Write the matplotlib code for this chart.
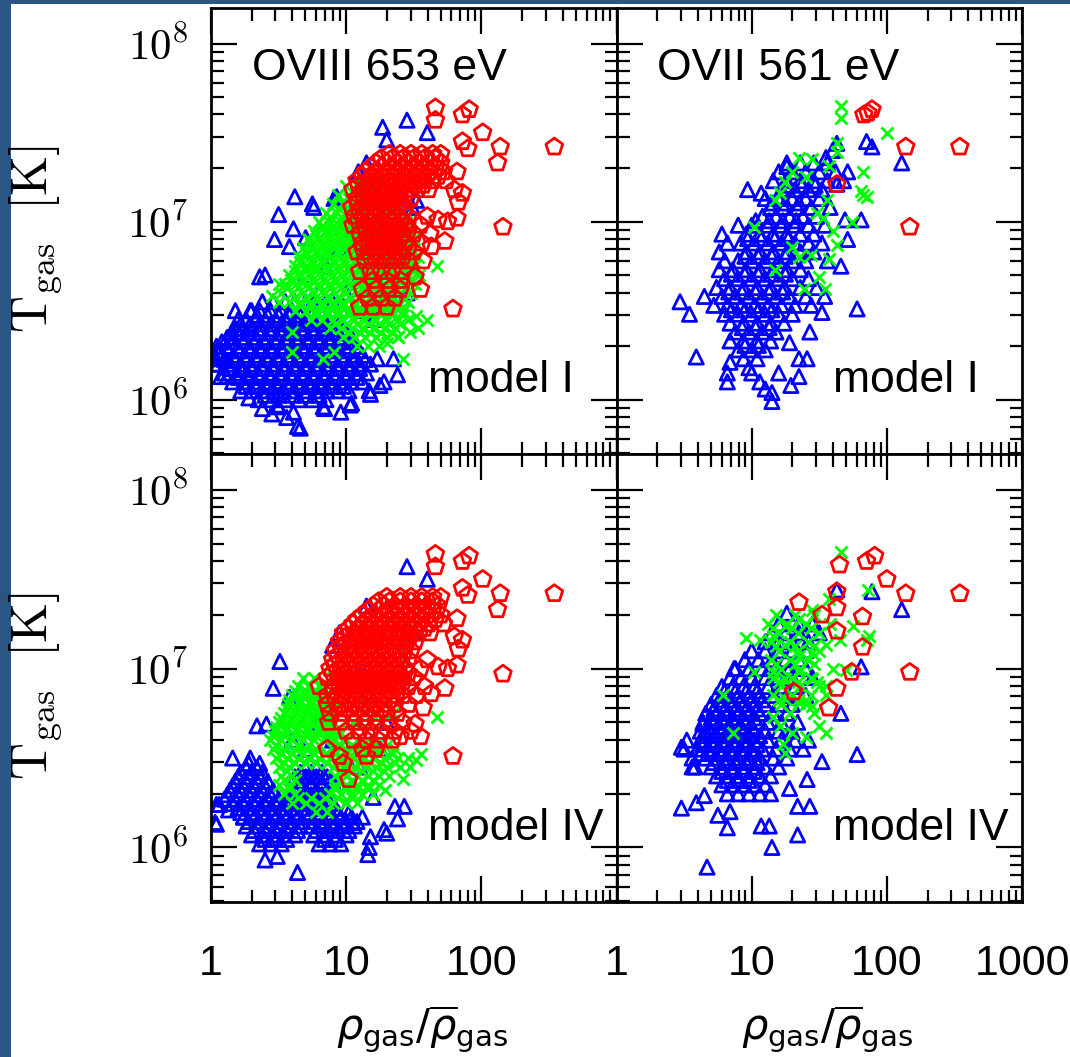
import numpy as np
import matplotlib
matplotlib.use("Agg")
import matplotlib.pyplot as plt
from matplotlib.patches import Rectangle
from matplotlib.ticker import FixedLocator, FixedFormatter, LogLocator, NullFormatter

plt.rcParams['font.family'] = ['Liberation Sans', 'DejaVu Sans']
plt.rcParams['mathtext.fontset'] = 'cm'

# ---------------------------------------------------------------
# Data: all values are log10(rho_gas/<rho_gas>) and log10(T_gas / K),
# read off the log-log panels.  Rows: (log T, [log rho, ...]).
# ---------------------------------------------------------------
X_TICKS = [1, 10, 100, 1000]
X_TICK_LABELS_LEFT = ['1', '10', '100', '']
X_TICK_LABELS_RIGHT = ['1', '10', '100', '1000']
Y_TICKS = [1e6, 1e7, 1e8]
Y_TICK_LABELS = [r'$10^6$', r'$10^7$', r'$10^8$']
PANEL_TITLES = ['OVIII 653 eV', 'OVII 561 eV']
MODEL_LABELS = ['model I', 'model IV']

# ---- top-left: OVIII, model I ----
TL_BLUE_ROWS = [
    (6.55, [0.38, 0.46, 0.55, 0.62, 0.70]),
    (6.50, [0.30, 0.36, 0.44, 0.52, 0.60, 0.68, 0.76, 0.84]),
    (6.45, [0.20, 0.26, 0.33, 0.40, 0.48, 0.55, 0.63, 0.71, 0.79, 0.87, 0.95]),
    (6.40, [0.18, 0.24, 0.30, 0.37, 0.45, 0.52, 0.60, 0.67, 0.75, 0.83, 0.91, 0.98]),
    (6.35, [0.12, 0.16, 0.25, 0.33, 0.41, 0.49, 0.56, 0.64, 0.72, 0.80, 0.88, 0.96, 1.04]),
    (6.30, [0.04, 0.12, 0.20, 0.28, 0.36, 0.44, 0.52, 0.60, 0.68, 0.76, 0.84, 0.92, 1.00, 1.08]),
    (6.25, [0.02, 0.08, 0.17, 0.25, 0.33, 0.41, 0.49, 0.57, 0.65, 0.73, 0.81, 0.89, 0.97, 1.05, 1.12]),
    (6.20, [0.05, 0.14, 0.22, 0.30, 0.38, 0.46, 0.54, 0.62, 0.70, 0.78, 0.86, 0.94, 1.02, 1.10, 1.18]),
    (6.15, [0.10, 0.19, 0.27, 0.35, 0.43, 0.51, 0.59, 0.67, 0.75, 0.83, 0.91, 0.99, 1.07, 1.15]),
    (6.10, [0.16, 0.24, 0.32, 0.40, 0.48, 0.56, 0.64, 0.72, 0.80, 0.88, 0.96, 1.04, 1.12]),
    (6.05, [0.22, 0.30, 0.38, 0.46, 0.54, 0.62, 0.70, 0.78, 0.86, 0.94, 1.02]),
    (6.00, [0.35, 0.45, 0.55, 0.65, 0.75, 0.85]),
]
TL_BLUE_CORE_ROWS = [
    (6.475, [0.34, 0.42, 0.50, 0.58, 0.66, 0.74, 0.82, 0.90]),
    (6.425, [0.22, 0.29, 0.36, 0.44, 0.52, 0.60, 0.68, 0.76, 0.84, 0.92]),
    (6.375, [0.15, 0.21, 0.28, 0.36, 0.44, 0.52, 0.60, 0.68, 0.76, 0.84, 0.92, 1.00]),
    (6.325, [0.08, 0.16, 0.24, 0.32, 0.40, 0.48, 0.56, 0.64, 0.72, 0.80, 0.88, 0.96, 1.04]),
    (6.275, [0.05, 0.13, 0.21, 0.29, 0.37, 0.45, 0.53, 0.61, 0.69, 0.77, 0.85, 0.93, 1.01, 1.09]),
    (6.225, [0.10, 0.18, 0.26, 0.34, 0.42, 0.50, 0.58, 0.66, 0.74, 0.82, 0.90, 0.98, 1.06, 1.14]),
    (6.175, [0.14, 0.22, 0.30, 0.38, 0.46, 0.54, 0.62, 0.70, 0.78, 0.86, 0.94, 1.02, 1.10]),
    (6.125, [0.20, 0.28, 0.36, 0.44, 0.52, 0.60, 0.68, 0.76, 0.84, 0.92, 1.00, 1.08]),
    (6.075, [0.26, 0.34, 0.42, 0.50, 0.58, 0.66, 0.74, 0.82, 0.90, 0.98]),
    (6.025, [0.40, 0.50, 0.60, 0.70, 0.80]),
]
TL_BLUE_PTS = [
    (1.27, 7.53), (1.30, 7.46), (1.45, 7.57), (1.60, 7.50), (1.15, 7.33), (1.09, 7.28),
    (0.93, 7.14), (0.75, 7.10), (0.62, 7.14), (0.76, 7.08), (0.91, 7.13), (0.50, 7.04),
    (0.61, 6.96), (0.47, 6.90), (0.58, 6.86), (0.70, 6.91), (0.36, 6.69), (0.40, 6.70),
    (0.18, 6.50), (0.29, 6.50), (0.04, 6.23), (0.12, 6.13), (0.13, 6.22), (0.07, 6.13),
    (0.24, 6.17), (0.28, 6.01), (0.38, 5.95), (0.50, 5.96), (0.61, 5.93), (0.64, 5.85),
    (0.66, 5.84), (0.84, 5.95), (0.96, 5.93), (1.04, 5.98), (1.17, 6.05), (1.28, 6.10),
    (1.38, 6.14), (1.23, 6.23), (1.35, 6.23), (1.25, 6.08), (1.18, 6.03), (1.03, 5.97),
    (0.83, 5.96), (0.49, 5.97), (0.56, 5.90), (0.45, 5.92), (0.02, 6.20), (0.06, 6.26),
    (0.85, 6.75), (0.95, 6.85), (1.05, 6.95), (1.00, 6.60), (1.10, 6.70), (0.90, 6.55),
    (1.15, 6.50), (1.20, 6.90), (1.10, 7.05), (0.80, 6.60), (0.70, 6.70), (1.30, 6.60),
    (1.25, 7.00), (1.40, 6.80), (1.30, 7.20), (0.75, 6.55), (1.00, 7.00), (1.40, 7.10),
    (1.45, 6.60), (1.20, 6.45), (1.49, 7.08), (1.52, 7.12), (1.19, 6.51),
]
TL_GREEN_ROWS = [
    (7.25, [1.12, 1.20, 1.28]),
    (7.20, [1.00, 1.08, 1.16, 1.24, 1.32]),
    (7.15, [0.94, 1.02, 1.10, 1.18, 1.26, 1.34]),
    (7.10, [0.90, 0.98, 1.06, 1.14, 1.22, 1.30, 1.38]),
    (7.05, [0.85, 0.93, 1.01, 1.09, 1.17, 1.25, 1.33, 1.41]),
    (7.00, [0.80, 0.88, 0.96, 1.04, 1.12, 1.20, 1.28, 1.36, 1.44]),
    (6.95, [0.76, 0.84, 0.92, 1.00, 1.08, 1.16, 1.24, 1.32, 1.40, 1.48]),
    (6.90, [0.72, 0.80, 0.88, 0.96, 1.04, 1.12, 1.20, 1.28, 1.36, 1.44, 1.50]),
    (6.85, [0.68, 0.76, 0.84, 0.92, 1.00, 1.08, 1.16, 1.24, 1.32, 1.40, 1.48]),
    (6.80, [0.65, 0.73, 0.81, 0.89, 0.97, 1.05, 1.13, 1.21, 1.29, 1.37, 1.45, 1.53]),
    (6.75, [0.62, 0.70, 0.78, 0.86, 0.94, 1.02, 1.10, 1.18, 1.26, 1.34, 1.42, 1.50]),
    (6.70, [0.58, 0.66, 0.74, 0.82, 0.90, 0.98, 1.06, 1.14, 1.22, 1.30, 1.38, 1.46, 1.54]),
    (6.65, [0.55, 0.63, 0.71, 0.79, 0.87, 0.95, 1.03, 1.11, 1.19, 1.27, 1.35, 1.43, 1.51]),
    (6.60, [0.52, 0.60, 0.68, 0.76, 0.84, 0.92, 1.00, 1.08, 1.16, 1.24, 1.32, 1.40, 1.48]),
    (6.55, [0.50, 0.58, 0.66, 0.74, 0.82, 0.90, 0.98, 1.06, 1.14, 1.22, 1.30, 1.38, 1.46]),
    (6.50, [0.62, 0.70, 0.78, 0.86, 0.94, 1.02, 1.10, 1.18, 1.26, 1.34, 1.42]),
    (6.45, [0.74, 0.82, 0.90, 0.98, 1.06, 1.14, 1.22, 1.30, 1.38, 1.46]),
    (6.40, [0.88, 0.96, 1.04, 1.12, 1.20, 1.28, 1.36]),
    (6.35, [0.98, 1.06, 1.14, 1.22, 1.30, 1.38]),
    (6.30, [1.08, 1.16, 1.24]),
]
TL_GREEN_CORE_ROWS = [
    (7.125, [1.02, 1.10, 1.18, 1.26]),
    (7.075, [0.94, 1.02, 1.10, 1.18, 1.26, 1.34]),
    (7.025, [0.88, 0.96, 1.04, 1.12, 1.20, 1.28, 1.36]),
    (6.975, [0.82, 0.90, 0.98, 1.06, 1.14, 1.22, 1.30, 1.38]),
    (6.925, [0.78, 0.86, 0.94, 1.02, 1.10, 1.18, 1.26, 1.34, 1.42]),
    (6.875, [0.74, 0.82, 0.90, 0.98, 1.06, 1.14, 1.22, 1.30, 1.38, 1.46]),
    (6.825, [0.70, 0.78, 0.86, 0.94, 1.02, 1.10, 1.18, 1.26, 1.34, 1.42]),
    (6.775, [0.66, 0.74, 0.82, 0.90, 0.98, 1.06, 1.14, 1.22, 1.30, 1.38, 1.46]),
    (6.725, [0.62, 0.70, 0.78, 0.86, 0.94, 1.02, 1.10, 1.18, 1.26, 1.34, 1.42, 1.50]),
    (6.675, [0.59, 0.67, 0.75, 0.83, 0.91, 0.99, 1.07, 1.15, 1.23, 1.31, 1.39, 1.47]),
    (6.625, [0.56, 0.64, 0.72, 0.80, 0.88, 0.96, 1.04, 1.12, 1.20, 1.28, 1.36, 1.44]),
    (6.575, [0.62, 0.70, 0.78, 0.86, 0.94, 1.02, 1.10, 1.18, 1.26, 1.34, 1.42]),
    (6.525, [0.66, 0.74, 0.82, 0.90, 0.98, 1.06, 1.14, 1.22, 1.30, 1.38]),
    (6.475, [0.78, 0.86, 0.94, 1.02, 1.10, 1.18, 1.26, 1.34, 1.42]),
    (6.425, [0.92, 1.00, 1.08, 1.16, 1.24, 1.32, 1.40]),
    (6.375, [1.02, 1.10, 1.18, 1.26, 1.34]),
]
TL_GREEN_PTS = [
    (1.67, 6.75), (1.52, 6.47), (1.47, 6.38), (1.42, 6.23), (1.30, 6.32), (0.60, 6.38),
    (0.60, 6.27), (0.83, 6.23), (0.91, 6.27), (1.60, 6.45), (1.53, 6.40), (1.38, 6.35),
    (0.45, 6.58), (0.50, 6.65),
]
TL_RED_ROWS = [
    (7.38, [1.32, 1.40, 1.48, 1.56, 1.64, 1.70]),
    (7.33, [1.22, 1.30, 1.38, 1.46, 1.54, 1.62, 1.70]),
    (7.28, [1.14, 1.22, 1.30, 1.38, 1.46, 1.54, 1.62, 1.72]),
    (7.23, [1.08, 1.16, 1.24, 1.32, 1.40, 1.48, 1.56, 1.64, 1.74]),
    (7.18, [1.05, 1.13, 1.21, 1.29, 1.37, 1.45, 1.53, 1.61]),
    (7.13, [1.08, 1.16, 1.24, 1.32, 1.40, 1.48]),
    (7.08, [1.04, 1.12, 1.20, 1.28, 1.36, 1.44]),
    (7.03, [1.06, 1.14, 1.22, 1.30, 1.38, 1.46, 1.60]),
    (6.98, [1.05, 1.13, 1.21, 1.29, 1.37, 1.45, 1.55]),
    (6.93, [1.10, 1.18, 1.26, 1.34, 1.42, 1.50, 1.62]),
    (6.88, [1.12, 1.20, 1.28, 1.36, 1.44, 1.56]),
    (6.83, [1.08, 1.16, 1.24, 1.32, 1.40, 1.50]),
    (6.78, [1.14, 1.22, 1.30, 1.38, 1.46]),
    (6.72, [1.10, 1.18, 1.26, 1.34, 1.42]),
    (6.67, [1.20, 1.30, 1.40]),
    (6.62, [1.12, 1.22, 1.32]),
    (6.57, [1.16, 1.26, 1.36]),
    (6.52, [1.10, 1.20, 1.30]),
]
TL_RED_CORE_ROWS = [
    (7.355, [1.26, 1.34, 1.42, 1.50, 1.58, 1.66]),
    (7.305, [1.18, 1.26, 1.34, 1.42, 1.50, 1.58, 1.66]),
    (7.255, [1.12, 1.20, 1.28, 1.36, 1.44, 1.52, 1.60, 1.68]),
    (7.205, [1.09, 1.17, 1.25, 1.33, 1.41, 1.49, 1.57]),
    (7.155, [1.12, 1.20, 1.28, 1.36, 1.44]),
    (7.105, [1.08, 1.16, 1.24, 1.32, 1.40]),
    (7.055, [1.10, 1.18, 1.26, 1.34, 1.42]),
    (7.005, [1.09, 1.17, 1.25, 1.33, 1.41]),
    (6.955, [1.14, 1.22, 1.30, 1.38, 1.46]),
    (6.905, [1.16, 1.24, 1.32, 1.40]),
    (6.855, [1.12, 1.20, 1.28, 1.36, 1.46]),
    (6.805, [1.18, 1.26, 1.34, 1.42]),
]
# high-density / high-temperature OVIII emitters (same in model I and IV)
OVIII_RED_OUTER = [
    (1.66, 7.64), (1.66, 7.57), (1.86, 7.60), (1.91, 7.63), (2.01, 7.50), (1.86, 7.45),
    (1.90, 7.41), (2.14, 7.42), (2.12, 7.33), (2.54, 7.42), (2.16, 6.97), (1.79, 6.51),
    (1.82, 7.28), (1.80, 7.18), (1.86, 7.16), (1.83, 7.11), (1.68, 7.01), (1.75, 7.00),
    (1.82, 7.02), (1.73, 6.89), (1.63, 6.86), (1.57, 6.78), (1.51, 6.69), (1.55, 6.62),
    (1.40, 6.62),
]

# ---- top-right: OVII, model I ----
TR_BLUE_ROWS = [
    (7.33, [1.26, 1.36, 1.46, 1.56]),
    (7.28, [1.20, 1.30, 1.40, 1.50, 1.62]),
    (7.23, [1.16, 1.26, 1.36, 1.46, 1.56, 1.68]),
    (7.18, [1.22, 1.32, 1.42, 1.52]),
    (7.13, [1.10, 1.20, 1.30, 1.40, 1.50]),
    (7.08, [1.14, 1.24, 1.34, 1.44, 1.58]),
    (7.03, [1.08, 1.18, 1.28, 1.38, 1.48]),
    (6.98, [0.90, 1.00, 1.12, 1.22, 1.32, 1.42, 1.54]),
    (6.93, [0.78, 0.96, 1.06, 1.16, 1.26, 1.36, 1.46]),
    (6.88, [0.82, 0.92, 1.02, 1.12, 1.22, 1.32, 1.42, 1.52]),
    (6.83, [0.76, 0.96, 1.06, 1.16, 1.26, 1.36, 1.46]),
    (6.78, [0.80, 0.90, 1.00, 1.10, 1.20, 1.30, 1.40, 1.56]),
    (6.73, [0.76, 0.86, 0.96, 1.06, 1.16, 1.26, 1.36]),
    (6.68, [0.80, 0.90, 1.00, 1.10, 1.20, 1.30, 1.42]),
    (6.63, [0.74, 0.84, 0.94, 1.04, 1.14, 1.24, 1.36, 1.48]),
    (6.58, [0.78, 0.88, 0.98, 1.08, 1.18, 1.28, 1.40, 1.54]),
    (6.53, [0.72, 0.82, 0.92, 1.02, 1.12, 1.22, 1.32, 1.44]),
    (6.48, [0.80, 0.90, 1.00, 1.10, 1.20, 1.30]),
    (6.43, [0.84, 0.94, 1.04, 1.14, 1.24]),
    (6.38, [0.88, 0.98, 1.08, 1.18]),
    (6.33, [0.84, 0.94, 1.04, 1.14]),
    (6.28, [0.90, 1.00, 1.10]),
    (6.23, [0.94, 1.04]),
    (6.18, [0.98]),
]
TR_BLUE_CORE_ROWS = [
    (7.205, [1.27, 1.37, 1.47]),
    (7.105, [1.15, 1.25, 1.35]),
    (7.005, [1.03, 1.13, 1.23, 1.33]),
    (6.905, [0.97, 1.07, 1.17, 1.27]),
    (6.805, [0.95, 1.05, 1.15, 1.25]),
    (6.705, [0.85, 0.95, 1.05, 1.15, 1.25]),
    (6.605, [0.83, 0.93, 1.03, 1.13, 1.23]),
    (6.505, [0.85, 0.95, 1.05, 1.15]),
    (6.405, [0.93, 1.03, 1.13]),
    (6.305, [0.95, 1.05]),
]
TR_BLUE_PTS = [
    (1.63, 7.44), (1.85, 7.45), (1.89, 7.42), (2.11, 7.33), (1.71, 7.28), (1.60, 7.40),
    (1.55, 7.36), (1.26, 7.31), (1.63, 7.21), (0.97, 7.18), (1.07, 7.16), (1.69, 7.01),
    (1.81, 7.01), (1.71, 6.90), (1.66, 6.75), (1.78, 6.51), (1.52, 6.49), (0.47, 6.55),
    (0.54, 6.48), (0.65, 6.58), (0.59, 6.24), (0.84, 6.21), (0.82, 6.10), (1.06, 6.10),
    (1.15, 5.99), (1.29, 6.08), (1.35, 6.13), (1.41, 6.23), (1.35, 6.23), (1.43, 6.38),
    (1.28, 6.32), (1.15, 6.04), (0.82, 6.15), (1.20, 6.15), (1.00, 6.15), (1.10, 6.06),
]
TR_GREEN_PTS = [
    (1.66, 7.65), (1.66, 7.58), (2.00, 7.50), (1.82, 7.28), (1.81, 7.17), (1.85, 7.14),
    (1.63, 7.44), (1.63, 7.39), (1.35, 7.36), (1.45, 7.35), (1.57, 7.31), (1.30, 7.28),
    (1.40, 7.25), (1.21, 7.16), (1.17, 7.12), (1.56, 7.12), (1.74, 7.00), (1.02, 6.97),
    (1.63, 6.87), (1.30, 6.86), (1.35, 6.80), (1.44, 6.81), (1.57, 6.79), (1.17, 6.73),
    (1.50, 6.69), (1.54, 6.62), (1.39, 6.62), (1.25, 7.22), (1.48, 7.05), (1.53, 7.02),
    (1.82, 7.15), (1.60, 6.95),
]
TR_RED_PTS = [
    (1.83, 7.60), (1.89, 7.63), (1.86, 7.61), (2.14, 7.42), (2.54, 7.42), (2.17, 6.97),
    (1.63, 7.21),
]

# ---- bottom-left: OVIII, model IV ----
BL_BLUE_ROWS = [
    (6.47, [0.28, 0.36]),
    (6.42, [0.22, 0.30, 0.38, 0.66, 0.74, 0.82]),
    (6.37, [0.18, 0.26, 0.34, 0.42, 0.66, 0.74, 0.82, 0.90]),
    (6.32, [0.14, 0.22, 0.30, 0.38, 0.46, 0.62, 0.70, 0.78, 0.86]),
    (6.27, [0.10, 0.18, 0.26, 0.34, 0.42, 0.50, 0.60, 0.68, 0.76, 0.84]),
    (6.22, [0.20, 0.28, 0.36, 0.44, 0.52, 0.60, 0.68, 0.76, 0.84, 0.92, 1.00]),
    (6.17, [0.24, 0.32, 0.40, 0.48, 0.56, 0.64, 0.72, 0.80, 0.88, 0.96, 1.04, 1.12]),
    (6.12, [0.26, 0.34, 0.42, 0.50, 0.58, 0.66, 0.74, 0.82, 0.90, 0.98, 1.06]),
    (6.07, [0.30, 0.38, 0.46, 0.54, 0.62, 0.76, 0.84, 0.92, 1.00]),
    (6.02, [0.36, 0.44, 0.52, 0.80, 0.88, 0.96]),
]
BL_BLUE_CORE_ROWS = [
    (6.445, [0.26, 0.34, 0.70, 0.78]),
    (6.395, [0.20, 0.28, 0.36, 0.62, 0.70, 0.78, 0.86]),
    (6.345, [0.16, 0.24, 0.32, 0.40, 0.66, 0.74, 0.82]),
    (6.295, [0.12, 0.20, 0.28, 0.36, 0.44, 0.58, 0.66, 0.74, 0.82]),
    (6.245, [0.16, 0.24, 0.32, 0.40, 0.48, 0.56, 0.64, 0.72, 0.80, 0.88]),
    (6.195, [0.22, 0.30, 0.38, 0.46, 0.54, 0.62, 0.70, 0.78, 0.86, 0.94, 1.02]),
    (6.145, [0.28, 0.36, 0.44, 0.52, 0.60, 0.68, 0.76, 0.84, 0.92, 1.00, 1.08]),
    (6.095, [0.32, 0.40, 0.48, 0.56, 0.64, 0.78, 0.86, 0.94, 1.02]),
    (6.045, [0.40, 0.48, 0.56, 0.84, 0.92]),
]
BL_BLUE_PTS = [
    (1.45, 7.57), (1.60, 7.50), (1.15, 7.35), (0.90, 7.13), (0.51, 7.04), (0.46, 6.89),
    (0.58, 6.84), (0.34, 6.68), (0.41, 6.69), (0.16, 6.50), (0.29, 6.50), (0.04, 6.24),
    (0.03, 6.14), (0.13, 6.21), (0.24, 6.17), (0.40, 5.93), (0.49, 5.95), (0.64, 5.86),
    (1.16, 5.96), (1.30, 6.08), (1.36, 6.23), (1.43, 6.23), (1.38, 6.16), (1.18, 6.06),
    (1.05, 6.14), (1.17, 6.00), (1.28, 6.10), (1.20, 6.28), (0.06, 6.24), (0.04, 6.13),
    (0.70, 6.55), (0.80, 6.70), (0.90, 6.60), (1.00, 6.50), (1.10, 6.45), (0.60, 6.60),
    (1.00, 6.90), (1.10, 7.00), (1.20, 6.80), (1.30, 6.70), (1.40, 7.10), (1.50, 7.20),
    (1.35, 7.35), (1.25, 6.55), (0.95, 7.20),
]
BL_GREEN_ROWS = [
    (6.95, [0.68, 0.76]),
    (6.90, [0.64, 0.72, 0.80]),
    (6.85, [0.60, 0.68, 0.76, 0.84]),
    (6.80, [0.57, 0.65, 0.73, 0.81, 0.89]),
    (6.75, [0.54, 0.62, 0.70, 0.78, 0.86]),
    (6.70, [0.50, 0.58, 0.66, 0.74, 0.82, 0.90]),
    (6.65, [0.47, 0.55, 0.63, 0.71, 0.79, 0.87, 0.95]),
    (6.60, [0.44, 0.52, 0.60, 0.68, 0.76, 0.84, 0.92, 1.00]),
    (6.55, [0.46, 0.54, 0.62, 0.70, 0.78, 0.90, 1.00, 1.08, 1.16, 1.26, 1.36]),
    (6.50, [0.48, 0.56, 0.64, 0.72, 0.80, 0.88, 0.96, 1.04, 1.12, 1.20, 1.28, 1.38, 1.46]),
    (6.45, [0.50, 0.58, 0.90, 0.98, 1.06, 1.14, 1.22, 1.30, 1.40]),
    (6.40, [0.52, 0.60, 0.92, 1.00, 1.08, 1.16, 1.24, 1.32]),
    (6.35, [0.50, 0.58, 0.92, 1.00, 1.08, 1.16, 1.24]),
    (6.30, [0.54, 0.62, 0.88, 0.96, 1.04, 1.12, 1.20]),
    (6.25, [0.60, 0.70, 0.80, 0.90, 1.00, 1.08]),
    (6.20, [0.78, 0.86]),
]
BL_GREEN_CORE_ROWS = [
    (6.875, [0.62, 0.70, 0.78]),
    (6.825, [0.58, 0.66, 0.74, 0.82]),
    (6.775, [0.56, 0.64, 0.72, 0.80, 0.88]),
    (6.725, [0.52, 0.60, 0.68, 0.76, 0.84]),
    (6.675, [0.48, 0.56, 0.64, 0.72, 0.80, 0.88]),
    (6.625, [0.46, 0.54, 0.62, 0.70, 0.78, 0.86, 0.94]),
    (6.575, [0.48, 0.56, 0.64, 0.72, 0.80, 0.94, 1.04, 1.12, 1.20, 1.30]),
    (6.525, [0.52, 0.60, 0.68, 0.76, 0.84, 0.92, 1.00, 1.08, 1.16, 1.24, 1.34]),
    (6.475, [0.54, 0.62, 0.70, 0.78, 0.86, 0.94, 1.02, 1.10, 1.18, 1.26, 1.36]),
    (6.425, [0.56, 0.96, 1.04, 1.12, 1.20, 1.28]),
    (6.375, [0.54, 0.62, 0.96, 1.04, 1.12, 1.20]),
    (6.325, [0.58, 0.92, 1.00, 1.08, 1.16]),
    (6.275, [0.64, 0.74, 0.84, 0.94, 1.04]),
]
BL_GREEN_PTS = [
    (1.67, 6.73), (1.52, 6.49), (1.55, 6.52), (1.42, 6.38), (1.29, 6.32), (1.47, 6.45),
    (1.00, 7.10), (1.10, 7.00), (1.20, 6.90), (1.30, 7.15), (1.40, 7.25), (1.15, 6.80),
    (1.05, 6.70), (0.95, 6.80), (1.25, 6.70), (1.35, 6.75), (0.90, 6.95),
]
BL_RED_ROWS = [
    (7.40, [1.30, 1.40, 1.48, 1.56, 1.64, 1.70]),
    (7.35, [1.20, 1.28, 1.36, 1.44, 1.52, 1.60, 1.68]),
    (7.30, [1.12, 1.20, 1.28, 1.36, 1.44, 1.52, 1.60, 1.70]),
    (7.25, [1.05, 1.13, 1.21, 1.29, 1.37, 1.45, 1.53, 1.61, 1.72]),
    (7.20, [0.98, 1.06, 1.14, 1.22, 1.30, 1.38, 1.46, 1.54, 1.62]),
    (7.15, [0.95, 1.03, 1.11, 1.19, 1.27, 1.35, 1.43, 1.51]),
    (7.10, [0.92, 1.00, 1.08, 1.16, 1.24, 1.32, 1.40, 1.48]),
    (7.05, [0.90, 0.98, 1.06, 1.14, 1.22, 1.30, 1.38, 1.46, 1.60]),
    (7.00, [0.88, 0.96, 1.04, 1.12, 1.20, 1.28, 1.36, 1.44, 1.55]),
    (6.95, [0.86, 0.94, 1.02, 1.10, 1.18, 1.26, 1.34, 1.42, 1.50]),
    (6.90, [0.80, 0.90, 0.98, 1.06, 1.14, 1.22, 1.30, 1.38, 1.46, 1.58]),
    (6.85, [0.86, 0.94, 1.02, 1.10, 1.18, 1.26, 1.34, 1.42, 1.52]),
    (6.80, [0.86, 0.96, 1.04, 1.12, 1.20, 1.28, 1.36, 1.46]),
    (6.75, [0.88, 0.98, 1.06, 1.14, 1.22, 1.30, 1.38]),
    (6.70, [0.87, 0.96, 1.06, 1.14, 1.22, 1.32, 1.42]),
    (6.65, [1.00, 1.10, 1.18, 1.26, 1.36, 1.48]),
    (6.60, [1.05, 1.15, 1.24, 1.34]),
    (6.55, [0.86, 1.12, 1.22]),
    (6.51, [0.95, 1.15]),
    (6.47, [0.98]),
    (6.38, [1.02]),
]
BL_RED_CORE_ROWS = [
    (7.375, [1.24, 1.32, 1.40, 1.48, 1.56, 1.64]),
    (7.325, [1.16, 1.24, 1.32, 1.40, 1.48, 1.56, 1.64]),
    (7.275, [1.08, 1.16, 1.24, 1.32, 1.40, 1.48, 1.56, 1.66]),
    (7.225, [1.02, 1.10, 1.18, 1.26, 1.34, 1.42, 1.50, 1.58]),
    (7.175, [0.99, 1.07, 1.15, 1.23, 1.31, 1.39, 1.47]),
    (7.125, [0.96, 1.04, 1.12, 1.20, 1.28, 1.36, 1.44]),
    (7.075, [0.94, 1.02, 1.10, 1.18, 1.26, 1.34, 1.42]),
    (7.025, [0.92, 1.00, 1.08, 1.16, 1.24, 1.32, 1.40]),
    (6.975, [0.90, 0.98, 1.06, 1.14, 1.22, 1.30, 1.38, 1.46]),
    (6.925, [0.94, 1.02, 1.10, 1.18, 1.26, 1.34, 1.42]),
    (6.875, [0.90, 0.98, 1.06, 1.14, 1.22, 1.30, 1.38]),
    (6.825, [0.92, 1.00, 1.08, 1.16, 1.24, 1.32]),
    (6.775, [0.94, 1.02, 1.10, 1.18, 1.26]),
]

# ---- bottom-right: OVII, model IV ----
BR_BLUE_ROWS = [
    (7.25, [1.20, 1.35, 1.45]),
    (7.20, [1.15, 1.25, 1.35, 1.50]),
    (7.15, [1.10, 1.20, 1.30, 1.42]),
    (7.10, [1.00, 1.10, 1.20, 1.30, 1.40]),
    (7.05, [0.95, 1.05, 1.15, 1.25, 1.35]),
    (7.00, [0.88, 0.98, 1.08, 1.18, 1.28, 1.40]),
    (6.95, [0.84, 0.92, 1.00, 1.10, 1.20, 1.30, 1.45]),
    (6.90, [0.78, 0.86, 0.94, 1.02, 1.12, 1.22, 1.32]),
    (6.85, [0.74, 0.82, 0.90, 0.98, 1.06, 1.16, 1.26, 1.40]),
    (6.80, [0.70, 0.78, 0.86, 0.94, 1.02, 1.10, 1.20, 1.30]),
    (6.75, [0.66, 0.74, 0.82, 0.90, 0.98, 1.06, 1.16, 1.26]),
    (6.70, [0.64, 0.72, 0.80, 0.88, 0.96, 1.04, 1.12, 1.22, 1.34]),
    (6.65, [0.62, 0.70, 0.78, 0.86, 0.94, 1.02, 1.10, 1.20, 1.30]),
    (6.60, [0.52, 0.62, 0.70, 0.78, 0.86, 0.94, 1.02, 1.12, 1.22, 1.32, 1.42]),
    (6.55, [0.50, 0.60, 0.68, 0.76, 0.84, 0.92, 1.00, 1.08, 1.18, 1.28, 1.38]),
    (6.50, [0.56, 0.66, 0.74, 0.82, 0.90, 0.98, 1.06, 1.16, 1.26]),
    (6.45, [0.58, 0.70, 0.78, 0.86, 0.94, 1.02, 1.10, 1.20]),
    (6.40, [0.74, 0.82, 0.90, 0.98, 1.06, 1.14]),
    (6.35, [0.78, 0.86, 0.94, 1.02, 1.10]),
    (6.30, [0.82, 0.90, 0.98, 1.06, 1.14]),
]
BR_BLUE_CORE_ROWS = [
    (6.875, [0.80, 0.88, 0.96, 1.04]),
    (6.825, [0.76, 0.84, 0.92, 1.00, 1.08]),
    (6.775, [0.72, 0.80, 0.88, 0.96, 1.04]),
    (6.725, [0.70, 0.78, 0.86, 0.94, 1.02]),
    (6.675, [0.68, 0.76, 0.84, 0.92, 1.00]),
    (6.625, [0.66, 0.74, 0.82, 0.90, 0.98, 1.06]),
    (6.575, [0.64, 0.72, 0.80, 0.88, 0.96, 1.04]),
    (6.525, [0.62, 0.70, 0.78, 0.86, 0.94, 1.02]),
    (6.475, [0.72, 0.80, 0.88, 0.96, 1.04]),
    (6.425, [0.78, 0.86, 0.94, 1.02]),
    (6.375, [0.82, 0.90, 0.98]),
]
BR_BLUE_PTS = [
    (1.63, 7.44), (1.89, 7.43), (2.11, 7.33), (1.26, 7.31), (1.81, 7.01), (1.66, 6.75),
    (1.78, 6.52), (1.52, 6.48), (1.41, 6.38), (1.28, 6.33), (1.34, 6.23), (1.43, 6.23),
    (1.07, 6.12), (1.13, 6.12), (1.34, 6.07), (1.15, 6.00), (0.67, 5.89), (0.48, 6.22),
    (0.59, 6.25), (0.65, 6.29), (0.75, 6.18), (0.84, 6.20), (0.82, 6.11), (0.48, 6.56),
    (0.56, 6.45), (0.64, 6.69), (0.87, 7.00),
]
BR_GREEN_ROWS = [
    (7.30, [1.18, 1.32, 1.46]),
    (7.25, [1.12, 1.26, 1.40, 1.58]),
    (7.20, [1.20, 1.34, 1.50]),
    (7.15, [1.14, 1.28, 1.42]),
    (7.10, [1.20, 1.34, 1.50]),
    (7.05, [1.14, 1.28, 1.42]),
    (7.00, [1.22, 1.36, 1.60]),
    (6.95, [1.16, 1.30, 1.44]),
    (6.90, [1.22, 1.36, 1.50]),
    (6.85, [1.16, 1.30, 1.44]),
    (6.80, [1.22, 1.40]),
    (6.75, [1.28, 1.46]),
]
BR_GREEN_CORE_ROWS = [
    (7.225, [1.16, 1.30, 1.44]),
    (7.125, [1.18, 1.32, 1.46]),
    (7.025, [1.18, 1.32, 1.46]),
    (6.925, [1.20, 1.34, 1.48]),
    (6.825, [1.20, 1.34]),
]
BR_GREEN_PTS = [
    (1.66, 7.65), (1.86, 7.44), (1.57, 7.39), (1.45, 7.33), (1.35, 7.28), (1.25, 7.24),
    (1.16, 7.18), (1.06, 7.16), (0.96, 7.17), (1.25, 7.13), (1.35, 7.07), (1.45, 7.09),
    (1.55, 7.13), (1.65, 7.16), (1.75, 7.24), (1.85, 7.16), (1.87, 7.18), (1.16, 6.98),
    (1.25, 6.94), (1.35, 6.98), (1.45, 6.94), (1.55, 6.90), (1.02, 6.98), (1.70, 6.99),
    (1.25, 6.83), (1.35, 6.81), (1.45, 6.79), (1.55, 6.85), (1.16, 6.73), (1.21, 6.68),
    (1.30, 6.64), (1.40, 6.62), (1.50, 6.68), (1.55, 6.64), (0.79, 6.85), (0.86, 6.64),
    (1.23, 6.58), (1.25, 6.53),
]
BR_RED_PTS = [
    (1.65, 7.58), (1.85, 7.60), (1.91, 7.63), (2.00, 7.50), (2.14, 7.42), (2.54, 7.42),
    (2.17, 6.98), (1.35, 7.37), (1.52, 7.30), (1.63, 7.43), (1.63, 7.34), (1.63, 7.21),
    (1.82, 7.29), (1.82, 7.12), (1.74, 6.98), (1.63, 6.89), (1.57, 6.78), (1.31, 6.87),
]


def collect(rows, pts):
    lx, lt = [], []
    for t, xs in rows:
        for x in xs:
            lx.append(x)
            lt.append(t)
    for x, t in pts:
        lx.append(x)
        lt.append(t)
    return 10.0 ** np.array(lx), 10.0 ** np.array(lt)


# ---------------------------------------------------------------
W, H = 1070, 1057
fig = plt.figure(figsize=(W / 100, H / 100), dpi=100)
fig.patch.set_facecolor('white')
BG = '#2b5583'
fig.add_artist(Rectangle((0, 0), 11 / W, 1, transform=fig.transFigure,
                         facecolor=BG, edgecolor='none', zorder=0))
fig.add_artist(Rectangle((0, 1 - 4 / H), 1, 4 / H, transform=fig.transFigure,
                         facecolor=BG, edgecolor='none', zorder=0))

xL0, xM, xR1 = 211, 616.5, 1022
yT0, yM, yB1 = 8, 454, 902


def make_ax(x0, x1, y0, y1):
    return fig.add_axes([x0 / W, 1 - y1 / H, (x1 - x0) / W, (y1 - y0) / H])


axTL = make_ax(xL0, xM, yT0, yM)
axTR = make_ax(xM, xR1, yT0, yM)
axBL = make_ax(xL0, xM, yM, yB1)
axBR = make_ax(xM, xR1, yM, yB1)


def style(ax, xlabels, ylabels):
    ax.set_xscale('log')
    ax.set_yscale('log')
    ax.set_xlim(1, 1000)
    ax.set_ylim(10 ** 5.695, 10 ** 8.2)
    ax.xaxis.set_major_locator(FixedLocator(X_TICKS))
    ax.yaxis.set_major_locator(FixedLocator(Y_TICKS))
    ax.xaxis.set_minor_locator(LogLocator(base=10, subs=np.arange(2, 10) * 1.0, numticks=50))
    ax.yaxis.set_minor_locator(LogLocator(base=10, subs=np.arange(2, 10) * 1.0, numticks=50))
    ax.xaxis.set_minor_formatter(NullFormatter())
    ax.yaxis.set_minor_formatter(NullFormatter())
    if xlabels is None:
        ax.xaxis.set_major_formatter(NullFormatter())
    else:
        ax.xaxis.set_major_formatter(FixedFormatter(xlabels))
    if ylabels is None:
        ax.yaxis.set_major_formatter(NullFormatter())
    else:
        ax.yaxis.set_major_formatter(FixedFormatter(ylabels))
    ax.tick_params(which='both', direction='in', top=True, right=True,
                   width=1.6, color='black')
    ax.tick_params(which='major', length=19)
    ax.tick_params(which='minor', length=9)
    ax.tick_params(axis='x', pad=30, labelsize=31)
    ax.tick_params(axis='y', pad=16, labelsize=31)
    for sp in ax.spines.values():
        sp.set_linewidth(2.0)


def draw(ax, blue, green, red):
    x, y = collect(*blue)
    ax.scatter(x, y, marker='^', s=105, facecolors='none', edgecolors='#0000ff',
               linewidths=2.0, zorder=2)
    x, y = collect(*green)
    ax.scatter(x, y, marker='x', s=75, c='#00ff00', linewidths=2.0, zorder=3)
    x, y = collect(*red)
    ax.scatter(x, y, marker='p', s=160, facecolors='none', edgecolors='#ff0000',
               linewidths=2.0, zorder=4)


draw(axTL, (TL_BLUE_ROWS + TL_BLUE_CORE_ROWS, TL_BLUE_PTS),
     (TL_GREEN_ROWS + TL_GREEN_CORE_ROWS, TL_GREEN_PTS),
     (TL_RED_ROWS + TL_RED_CORE_ROWS, OVIII_RED_OUTER))
draw(axTR, (TR_BLUE_ROWS + TR_BLUE_CORE_ROWS, TR_BLUE_PTS),
     ([], TR_GREEN_PTS), ([], TR_RED_PTS))
draw(axBL, (BL_BLUE_ROWS + BL_BLUE_CORE_ROWS, BL_BLUE_PTS),
     (BL_GREEN_ROWS + BL_GREEN_CORE_ROWS, BL_GREEN_PTS),
     (BL_RED_ROWS + BL_RED_CORE_ROWS, OVIII_RED_OUTER))
draw(axBR, (BR_BLUE_ROWS + BR_BLUE_CORE_ROWS, BR_BLUE_PTS),
     (BR_GREEN_ROWS + BR_GREEN_CORE_ROWS, BR_GREEN_PTS),
     ([], BR_RED_PTS))

style(axTL, None, Y_TICK_LABELS)
style(axTR, None, None)
style(axBL, X_TICK_LABELS_LEFT, Y_TICK_LABELS)
style(axBR, X_TICK_LABELS_RIGHT, None)

for ax, title in ((axTL, PANEL_TITLES[0]), (axTR, PANEL_TITLES[1])):
    ax.text(0.10, 0.838, title, transform=ax.transAxes, fontsize=32,
            ha='left', va='baseline', zorder=6)
for ax, lab in ((axTL, MODEL_LABELS[0]), (axTR, MODEL_LABELS[0]),
                (axBL, MODEL_LABELS[1]), (axBR, MODEL_LABELS[1])):
    ax.text(0.535, 0.138, lab, transform=ax.transAxes, fontsize=32,
            ha='left', va='baseline', zorder=6)

# axis titles
for yc in ((yT0 + yM) / 2, (yM + yB1) / 2):
    fig.text(36 / W, 1 - (yc + 8) / H, r'$\mathrm{T_{gas}\ \ [K]}$', rotation=90,
             ha='center', va='center', fontsize=37)
for xc in ((xL0 + xM) / 2 + 8, (xM + xR1) / 2 + 8):
    fig.text(xc / W, 1 - 1029 / H, r'$\rho_{\rm gas}/\overline{\rho}_{\rm gas}$',
             ha='center', va='center', fontsize=30, math_fontfamily='dejavusans')

fig.savefig('out.png', dpi=100, facecolor=fig.get_facecolor())
